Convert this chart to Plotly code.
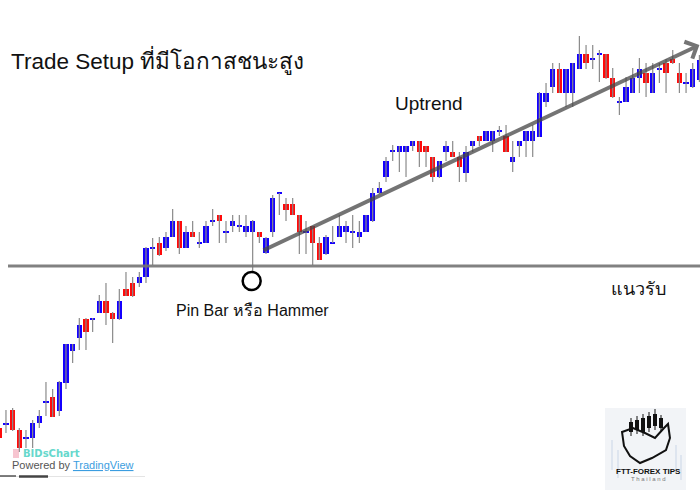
import plotly.graph_objects as go

# ---- OHLC series (one entry per session) ----
opens = [72, 76, 90, 70, 62, 62, 77, 98, 103, 89,
         117, 149, 162, 181, 181, 187, 199, 187, 181, 211,
         217, 217, 223, 252, 257, 252, 263, 279, 252, 268,
         257, 257, 279, 285, 268, 274, 274, 268, 268, 268,
         247, 268, 307, 296, 296, 285, 268, 274, 257, 246,
         257, 263, 268, 268, 263, 268, 279, 307, 323, 349,
         348, 348, 354, 359, 354, 343, 323, 348, 348, 343,
         327, 354, 364, 359, 359, 369, 364, 338, 354, 359,
         359, 363, 398, 413, 431, 407, 407, 431, 446, 441,
         446, 446, 422, 398, 398, 407, 422, 427, 407, 431,
         437, 441, 427, 417, 413, 420]
highs = [75, 90, 92, 72, 70, 80, 90, 118, 111, 119,
         156, 156, 182, 182, 182, 205, 217, 188, 211, 228,
         223, 228, 253, 262, 263, 268, 291, 279, 274, 279,
         268, 279, 291, 285, 279, 285, 285, 285, 280, 268,
         263, 305, 307, 302, 302, 285, 279, 274, 263, 265,
         274, 285, 279, 285, 279, 285, 312, 318, 343, 355,
         354, 354, 359, 359, 354, 343, 339, 359, 359, 348,
         354, 359, 364, 369, 369, 374, 375, 359, 359, 369,
         375, 408, 417, 437, 437, 431, 437, 464, 455, 455,
         450, 446, 432, 403, 423, 432, 442, 437, 437, 437,
         441, 450, 437, 427, 437, 445]
lows = [60, 67, 69, 48, 52, 52, 72, 84, 83, 84,
        111, 137, 150, 150, 168, 187, 175, 157, 180, 204,
        203, 213, 217, 235, 244, 249, 263, 246, 252, 263,
        252, 257, 274, 257, 257, 268, 268, 263, 227, 257,
        246, 263, 285, 279, 285, 246, 246, 235, 240, 245,
        257, 263, 257, 252, 257, 268, 278, 306, 318, 339,
        328, 323, 349, 333, 333, 318, 322, 339, 343, 318,
        318, 348, 354, 359, 348, 364, 348, 328, 343, 343,
        343, 363, 393, 407, 407, 393, 393, 431, 431, 431,
        418, 421, 402, 385, 398, 407, 407, 403, 407, 417,
        407, 436, 407, 407, 412, 418]
closes = [62, 76, 70, 52, 62, 77, 84, 98, 83, 118,
          156, 156, 175, 168, 181, 199, 187, 181, 199, 204,
          204, 223, 252, 252, 245, 263, 279, 252, 268, 263,
          257, 274, 279, 279, 268, 279, 274, 274, 279, 263,
          262, 302, 307, 290, 285, 268, 268, 257, 240, 263,
          257, 274, 274, 268, 268, 285, 307, 312, 339, 349,
          354, 354, 359, 348, 348, 323, 339, 354, 343, 333,
          348, 359, 359, 369, 369, 369, 348, 343, 359, 369,
          369, 407, 407, 431, 407, 431, 437, 446, 437, 441,
          446, 422, 403, 398, 413, 422, 431, 417, 427, 431,
          427, 437, 417, 417, 431, 440]

support_level = 234          # horizontal support (แนวรับ)
pin_bar_index = 38           # the pin bar / hammer touching support
trend_start = (39.4, 249)    # trend line start (session, price)
trend_end = (105.0, 455)     # trend line arrow tip (session, price)

title_text = "Trade Setup ที่มีโอกาสชนะสูง"
uptrend_text = "Uptrend"
pinbar_text = "Pin Bar หรือ Hammer"
support_text = "แนวรับ"

UP = "#1400ff"
DOWN = "#ff0a0a"
WICK = "#8a8a8a"
W, H = 700, 500

n = len(opens)
idx = list(range(n))

# wicks: one vertical segment per session
wx, wy = [], []
for i in idx:
    wx += [i, i, None]
    wy += [lows[i], highs[i], None]

# bodies: floating bars from min(open, close) to max(open, close)
min_body = 1.6
b_base, b_h, b_col = [], [], []
for i in idx:
    lo_, hi_ = min(opens[i], closes[i]), max(opens[i], closes[i])
    h = hi_ - lo_
    if h < min_body:
        mid = (lo_ + hi_) / 2
        lo_, h = mid - min_body / 2, min_body
    b_base.append(lo_)
    b_h.append(h)
    b_col.append(DOWN if closes[i] < opens[i] else UP)

fig = go.Figure()
fig.add_trace(go.Scatter(x=wx, y=wy, mode="lines",
                         line=dict(color=WICK, width=1.2),
                         hoverinfo="skip", showlegend=False))
fig.add_trace(go.Bar(x=idx, y=b_h, base=b_base, width=0.82,
                     marker=dict(color=b_col, line=dict(width=0)),
                     showlegend=False))


def px(x):
    return x / W


def py(y):
    return 1 - y / H


shapes = []
# support line
shapes.append(dict(type="line", xref="paper", yref="y", x0=px(8), x1=1,
                   y0=support_level, y1=support_level,
                   line=dict(color="rgba(115,115,115,0.9)", width=3)))
# circle under the pin bar
shapes.append(dict(type="circle", xref="x", yref="y",
                   xsizemode="pixel", ysizemode="pixel",
                   xanchor=pin_bar_index - 0.15, yanchor=lows[pin_bar_index] - 8,
                   x0=-9, x1=9, y0=-9, y1=9,
                   line=dict(color="black", width=2.5)))

# scroll bar at the bottom left
shapes.append(dict(type="line", xref="paper", yref="paper", x0=0, x1=px(145),
                   y0=py(476.5), y1=py(476.5), line=dict(color="#e4e4e4", width=1)))
shapes.append(dict(type="line", xref="paper", yref="paper", x0=0, x1=px(16),
                   y0=py(476), y1=py(476), line=dict(color="#555", width=1.5)))
shapes.append(dict(type="line", xref="paper", yref="paper", x0=px(19), x1=px(48),
                   y0=py(476.5), y1=py(476.5), line=dict(color="#444", width=2.5)))

# small chart-service icon
shapes.append(dict(type="rect", xref="paper", yref="paper",
                   x0=px(13), x1=px(19), y0=py(458), y1=py(449),
                   fillcolor="rgba(240,150,170,0.55)", line=dict(width=0)))

# logo badge (bottom right)
shapes.append(dict(type="rect", xref="paper", yref="paper",
                   x0=px(605), x1=px(686), y0=py(490), y1=py(408),
                   fillcolor="#f2f4f7", line=dict(width=0)))
for lx, ly0, ly1 in [(612, 440, 470), (618, 450, 478), (676, 445, 470), (681, 455, 480)]:
    shapes.append(dict(type="line", xref="paper", yref="paper",
                       x0=px(lx), x1=px(lx), y0=py(ly0), y1=py(ly1),
                       line=dict(color="rgba(150,180,210,0.45)", width=1)))
for cx, top, bot, wt, wb in [(631, 422, 432, 418, 436), (637, 420, 430, 416, 434),
                             (643, 418, 432, 414, 436), (649, 416, 428, 412, 432),
                             (655, 414, 426, 409, 430), (661, 418, 428, 415, 432)]:
    shapes.append(dict(type="line", xref="paper", yref="paper",
                       x0=px(cx), x1=px(cx), y0=py(wt), y1=py(wb),
                       line=dict(color="#111", width=1)))
    shapes.append(dict(type="rect", xref="paper", yref="paper",
                       x0=px(cx - 2), x1=px(cx + 2), y0=py(bot), y1=py(top),
                       fillcolor="#111", line=dict(width=0)))
pts = [(622, 432), (633, 428), (645, 433), (655, 438), (664, 428), (668, 424),
       (670, 438), (666, 450), (652, 458), (640, 463), (630, 456), (624, 446)]
path = "M " + " L ".join(f"{px(a):.4f},{py(b):.4f}" for a, b in pts) + " Z"
shapes.append(dict(type="path", xref="paper", yref="paper", path=path,
                   line=dict(color="#111", width=2)))

annotations = []
# trend line with arrow head
annotations.append(dict(x=trend_end[0], y=trend_end[1], ax=trend_start[0], ay=trend_start[1],
                        xref="x", yref="y", axref="x", ayref="y", text="",
                        showarrow=True, arrowhead=4, arrowsize=0.9, arrowwidth=4,
                        arrowcolor="rgba(70,70,70,0.75)", standoff=0))

FONT = "Liberation Sans, Arial, Noto Sans, sans-serif"
annotations.append(dict(x=px(9), y=py(60), xref="paper", yref="paper", text=title_text,
                        showarrow=False, xanchor="left", yanchor="middle",
                        font=dict(family=FONT, size=22.5, color="#111")))
annotations.append(dict(x=px(429), y=py(104), xref="paper", yref="paper", text=uptrend_text,
                        showarrow=False, xanchor="center", yanchor="middle",
                        font=dict(family=FONT, size=19, color="#111")))
annotations.append(dict(x=px(252), y=py(310), xref="paper", yref="paper", text=pinbar_text,
                        showarrow=False, xanchor="center", yanchor="middle",
                        font=dict(family=FONT, size=16, color="#111")))
annotations.append(dict(x=px(638), y=py(289), xref="paper", yref="paper", text=support_text,
                        showarrow=False, xanchor="center", yanchor="middle",
                        font=dict(family=FONT, size=18, color="#111")))
annotations.append(dict(x=px(21), y=py(453), xref="paper", yref="paper", text="<b>BIDsChart</b>",
                        showarrow=False, xanchor="left", yanchor="middle",
                        font=dict(family="DejaVu Sans", size=10, color="#66d8cc")))
annotations.append(dict(x=px(10), y=py(465), xref="paper", yref="paper",
                        text="Powered by <span style='color:#3b9de0'><u>TradingView</u></span>",
                        showarrow=False, xanchor="left", yanchor="middle",
                        font=dict(family=FONT, size=11, color="#555")))
annotations.append(dict(x=px(648), y=py(471), xref="paper", yref="paper", text="<b>FTT-FOREX TIPS</b>",
                        showarrow=False, xanchor="center", yanchor="middle",
                        font=dict(family=FONT, size=8, color="#111")))
annotations.append(dict(x=px(648), y=py(479), xref="paper", yref="paper", text="T h a i l a n d",
                        showarrow=False, xanchor="center", yanchor="middle",
                        font=dict(family=FONT, size=6, color="#777")))

fig.update_layout(
    width=W, height=H, margin=dict(l=0, r=0, t=0, b=0),
    paper_bgcolor="white", plot_bgcolor="white",
    barmode="overlay", bargap=0,
    xaxis=dict(range=[0.105, 105.09], visible=False, fixedrange=True),
    yaxis=dict(range=[0, 500], visible=False, fixedrange=True),
    shapes=shapes, annotations=annotations, showlegend=False,
)

fig.write_html("out.html", config={"displayModeBar": False})
